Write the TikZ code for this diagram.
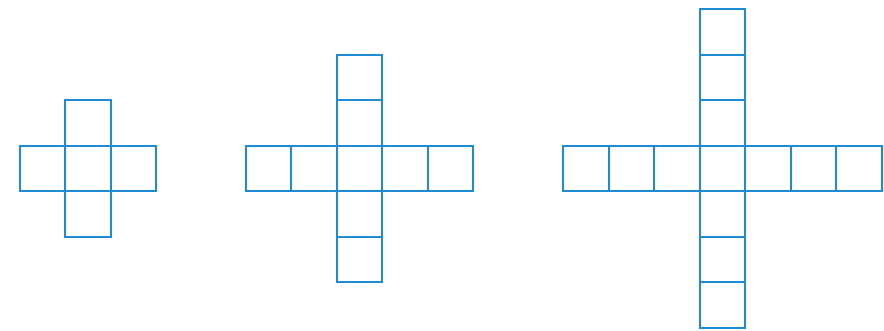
\documentclass[tikz,border=0pt]{standalone}
\definecolor{sqblue}{RGB}{30,140,212}
\begin{document}
\begin{tikzpicture}[x=1pt,y=-1pt,
  cell/.style={draw=sqblue,line width=2pt,minimum size=45.5pt,inner sep=0pt,outer sep=0pt,shape=rectangle}]
\useasboundingbox (0,0) rectangle (884,330);
% figure 1
\foreach \i in {-1,0,1}{\node[cell] (a-h\i) at ({88+45.5*\i},168.5) {};}
\foreach \i in {-1,1}{\node[cell] (a-v\i) at (88,{168.5+45.5*\i}) {};}
% figure 2
\foreach \i in {-2,-1,0,1,2}{\node[cell] (b-h\i) at ({359.5+45.5*\i},168.3) {};}
\foreach \i in {-2,-1,1,2}{\node[cell] (b-v\i) at (359.5,{168.3+45.5*\i}) {};}
% figure 3
\foreach \i in {-3,-2,-1,0,1,2,3}{\node[cell] (c-h\i) at ({722.5+45.5*\i},168.3) {};}
\foreach \i in {-3,-2,-1,1,2,3}{\node[cell] (c-v\i) at (722.5,{168.3+45.5*\i}) {};}
\end{tikzpicture}
\end{document}
